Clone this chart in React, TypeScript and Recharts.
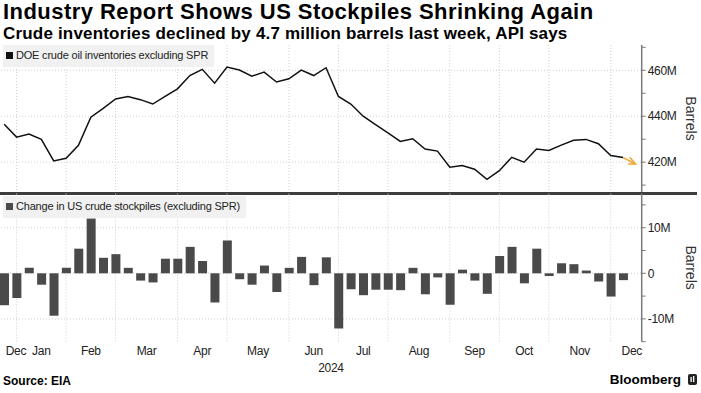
import {
  Bar,
  CartesianGrid,
  ComposedChart,
  Legend,
  Line,
  XAxis,
  YAxis,
} from "recharts";

// weekly EIA report dates (Fridays)
const weeks = [
  "2023-12-29", "2024-01-05", "2024-01-12", "2024-01-19", "2024-01-26",
  "2024-02-02", "2024-02-09", "2024-02-16", "2024-02-23", "2024-03-01",
  "2024-03-08", "2024-03-15", "2024-03-22", "2024-03-29", "2024-04-05",
  "2024-04-12", "2024-04-19", "2024-04-26", "2024-05-03", "2024-05-10",
  "2024-05-17", "2024-05-24", "2024-05-31", "2024-06-07", "2024-06-14",
  "2024-06-21", "2024-06-28", "2024-07-05", "2024-07-12", "2024-07-19",
  "2024-07-26", "2024-08-02", "2024-08-09", "2024-08-16", "2024-08-23",
  "2024-08-30", "2024-09-06", "2024-09-13", "2024-09-20", "2024-09-27",
  "2024-10-04", "2024-10-11", "2024-10-18", "2024-10-25", "2024-11-01",
  "2024-11-08", "2024-11-15", "2024-11-22", "2024-11-29", "2024-12-06",
  "2024-12-13", "2024-12-20",
];

// million barrels
const inventory = [
  436.5, 430.9, 432.2, 429.9, 420.5, 421.7, 427.3, 439.6, 443.4, 447.5,
  448.6, 447.2, 445.3, 448.6, 451.9, 457.7, 460.4, 454.4, 461.4, 460.1,
  457.4, 459.2, 454.9, 456.3, 460.1, 457.7, 461.1, 448.6, 445.3, 440.0,
  436.3, 432.7, 429.0, 430.2, 425.7, 424.8, 417.8, 418.5, 416.9, 412.5,
  416.3, 422.1, 420.0, 425.7, 425.1, 427.4, 429.5, 429.9, 428.0, 422.9,
  422.0,
];

const weeklyChange = [
  -7.0, -5.4, 1.2, -2.5, -9.3, 1.2, 5.4, 12.0, 3.4, 4.2,
  1.2, -1.6, -2.0, 3.2, 3.2, 5.8, 2.7, -6.4, 7.2, -1.3,
  -2.5, 1.7, -4.1, 1.2, 3.6, -2.6, 3.5, -12.1, -3.5, -4.8,
  -3.6, -3.6, -3.7, 1.2, -4.6, -0.9, -6.9, 0.8, -1.6, -4.5,
  3.8, 5.8, -2.2, 5.4, -0.6, 2.2, 2.0, 0.6, -1.8, -5.1,
  -1.5,
];

// API pointer for the latest week
const apiWeeks = ["2024-12-13", "2024-12-20"];
const apiValues = [422.0, 419.2];

const monthStarts = [
  "2024-01-05", "2024-02-02", "2024-03-01", "2024-04-05", "2024-05-03", "2024-06-07",
  "2024-07-05", "2024-08-02", "2024-09-06", "2024-10-04", "2024-11-01", "2024-12-06",
];
const monthLabels = ["Dec", "Jan", "Feb", "Mar", "Apr", "May", "Jun", "Jul", "Aug", "Sep", "Oct", "Nov", "Dec"];
const monthLabelAt = [0.95, 3, 7, 11.5, 16, 20.5, 25, 29, 33.5, 38, 42, 46.5, 50.7];
const yearLabel = "2024";
const yearLabelAt = 26.4;

const invTicks = [410, 420, 430, 440, 450, 460, 470];
const invLabelled = [420, 440, 460];
const chgTicks = [-15, -10, -5, 0, 5, 10, 15];
const chgLabelled = [-10, 0, 10];

const rows = weeks.map((week, i) => ({
  x: i,
  week,
  inventory: inventory[i] ?? null,
  change: weeklyChange[i] ?? null,
  api: apiWeeks.includes(week) ? apiValues[apiWeeks.indexOf(week)] : null,
}));

const gridX = monthStarts.map((d) => weeks.indexOf(d));
const xDomain = [-0.5, weeks.length - 0.5];

const FONT = '"Liberation Sans", Arial, sans-serif';
const ORANGE = "#f2a531";
const BAR = "#4a4a4a";
const AXIS = "#7a7a7a";
const GRID = "#cfcfcf";

function LegendBox({ label, color }: { label: string; color: string }) {
  return (
    <div
      style={{
        display: "inline-flex",
        alignItems: "center",
        background: "#f1f1f1",
        padding: "4px 6px 5px 3px",
        fontFamily: FONT,
        fontSize: 11,
        letterSpacing: -0.2,
        color: "#222",
        lineHeight: "13px",
        whiteSpace: "nowrap",
      }}
    >
      <span style={{ width: 7, height: 7, background: color, marginRight: 3, display: "inline-block" }} />
      {label}
    </div>
  );
}

function legendFor(key: string, color: string) {
  return (props: any) => {
    const item = (props.payload || []).find((p: any) => p.dataKey === key);
    return item ? <LegendBox label={item.value} color={color} /> : null;
  };
}

function ApiArrow(props: any) {
  const { cx, cy, payload } = props;
  if (cx == null || cy == null || payload?.week !== apiWeeks[apiWeeks.length - 1]) return <g key={props.index} />;
  return (
    <path
      key={props.index}
      d={`M${cx - 7.3},${cy} L${cx},${cy} L${cx - 5.7},${cy - 6.7}`}
      fill="none"
      stroke={ORANGE}
      strokeWidth={1.5}
    />
  );
}

function MonthTick(props: any) {
  const { x, y, payload } = props;
  const isYear = payload.value === yearLabelAt;
  const text = isYear ? yearLabel : monthLabels[monthLabelAt.indexOf(payload.value)];
  return (
    <text
      x={x}
      y={y + (isYear ? 30.5 : 13.5)}
      textAnchor="middle"
      fontSize={12}
      letterSpacing={-0.3}
      fill="#222"
      fontFamily={FONT}
    >
      {text}
    </text>
  );
}

const yTick = { fontSize: 12, fill: "#222", letterSpacing: -0.3, fontFamily: FONT };

export default function App() {
  return (
    <div style={{ position: "relative", width: 701, height: 393, overflow: "hidden", fontFamily: FONT, background: "#fff" }}>
      <style>{`body{margin:0}`}</style>
      <div style={{ position: "absolute", left: 3, top: 0.9, fontSize: 22, lineHeight: "22px", letterSpacing: 0.45, fontWeight: 700, color: "#000", whiteSpace: "nowrap" }}>
        Industry Report Shows US Stockpiles Shrinking Again
      </div>
      <div style={{ position: "absolute", left: 3, top: 25.1, fontSize: 17, lineHeight: "17px", letterSpacing: 0.18, fontWeight: 700, color: "#000", whiteSpace: "nowrap" }}>
        Crude inventories declined by 4.7 million barrels last week, API says
      </div>

      <div style={{ position: "absolute", left: -2, top: 40 }}>
        <ComposedChart width={703} height={155} data={rows} margin={{ top: 5, right: 0, bottom: 3, left: 0 }}>
          <CartesianGrid stroke={GRID} strokeDasharray="1 2" horizontalValues={invLabelled} verticalValues={gridX} />
          <XAxis type="number" dataKey="x" domain={xDomain} hide />
          <YAxis
            orientation="right"
            domain={[407, 471]}
            ticks={invTicks}
            interval={0}
            width={59.3}
            tickFormatter={(v: number) => (invLabelled.includes(v) ? `${v}M` : "")}
            tick={yTick}
            tickSize={4}
            tickMargin={2}
            axisLine={{ stroke: AXIS, strokeWidth: 1.5 }}
            tickLine={{ stroke: AXIS }}
            label={{ value: "Barrels", angle: 90, position: "center", dx: 20, fontSize: 14, fill: "#333", fontFamily: FONT }}
          />
          <Legend
            layout="vertical"
            align="center"
            verticalAlign="middle"
            wrapperStyle={{ top: 5, left: 5, width: "auto" }}
            content={legendFor("inventory", "#111")}
          />
          <Line
            dataKey="inventory"
            name="DOE crude oil inventories excluding SPR"
            stroke="#111"
            strokeWidth={1.5}
            dot={false}
            isAnimationActive={false}
          />
          <Line
            dataKey="api"
            stroke={ORANGE}
            strokeWidth={1.5}
            dot={ApiArrow}
            activeDot={false}
            legendType="none"
            isAnimationActive={false}
          />
        </ComposedChart>
      </div>

      <div style={{ position: "absolute", left: 0, top: 192, width: 697, height: 2.5, background: "#3d3d3d" }} />

      <div style={{ position: "absolute", left: -2, top: 190 }}>
        <ComposedChart width={703} height={185} data={rows} margin={{ top: 3.5, right: 0, bottom: 0, left: 0 }}>
          <CartesianGrid stroke={GRID} strokeDasharray="1 2" horizontalValues={chgLabelled} verticalValues={gridX} />
          <XAxis
            type="number"
            dataKey="x"
            domain={xDomain}
            ticks={[...monthLabelAt, yearLabelAt]}
            interval={0}
            height={33.3}
            tickSize={0}
            tickMargin={0}
            tickLine={false}
            axisLine={false}
            tick={<MonthTick />}
          />
          <YAxis
            orientation="right"
            domain={[-15, 17.5]}
            ticks={chgTicks}
            interval={0}
            width={59.3}
            tickFormatter={(v: number) => (chgLabelled.includes(v) ? (v === 0 ? "0" : `${v}M`) : "")}
            tick={yTick}
            tickSize={4}
            tickMargin={2}
            axisLine={{ stroke: AXIS, strokeWidth: 1.5 }}
            tickLine={{ stroke: AXIS }}
            label={{ value: "Barrels", angle: 90, position: "center", dx: 20, fontSize: 14, fill: "#333", fontFamily: FONT }}
          />
          <Legend
            layout="vertical"
            align="center"
            verticalAlign="middle"
            wrapperStyle={{ top: 6, left: 5, width: "auto" }}
            content={legendFor("change", BAR)}
          />
          <Bar
            dataKey="change"
            name="Change in US crude stockpiles (excluding SPR)"
            fill={BAR}
            barSize={9}
            isAnimationActive={false}
          />
        </ComposedChart>
      </div>

      <div style={{ position: "absolute", left: 3, top: 374.8, fontSize: 12, lineHeight: "12px", fontWeight: 700, color: "#000" }}>
        Source: EIA
      </div>
      <div style={{ position: "absolute", right: 20, top: 372.5, fontSize: 13.5, lineHeight: "13.5px", fontWeight: 700, color: "#000" }}>
        Bloomberg
      </div>
      <svg style={{ position: "absolute", left: 688, top: 374 }} width={9} height={11}>
        <rect x={0} y={0} width={9} height={11} rx={2} fill="#222" />
        <rect x={2.5} y={3} width={1.3} height={5} fill="#fff" />
        <rect x={5} y={2} width={1.3} height={6} fill="#fff" />
      </svg>
    </div>
  );
}
